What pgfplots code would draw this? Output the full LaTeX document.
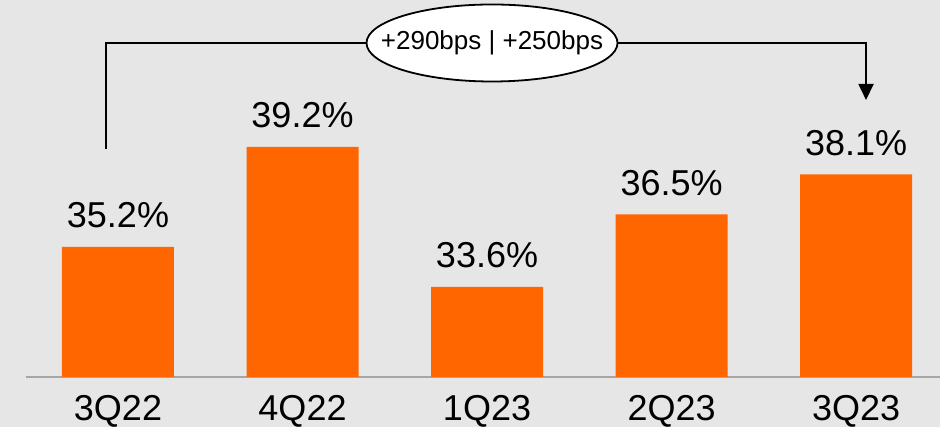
\documentclass[border=0pt]{standalone}
\usepackage{pgfplots}
\pgfplotsset{compat=1.18}
\usepackage{fontspec}
\setmainfont{Liberation Sans}
\usetikzlibrary{arrows.meta}

\definecolor{bgray}{RGB}{230,230,230}
\definecolor{barorange}{RGB}{255,102,0}
\definecolor{basegray}{RGB}{166,166,166}

\begin{document}
\begin{tikzpicture}
\fill[bgray] (0,0) rectangle (940pt,427pt);
\begin{axis}[
  at={(26pt,50pt)}, anchor=south west,
  scale only axis,
  width=914pt, height=377pt,
  xmin=-0.4986, xmax=4.455,
  ymin=30, ymax=45.08,
  clip=false,
  axis y line=none,
  axis x line=bottom,
  x axis line style={draw=basegray, line width=1.6pt, -},
  xtick=data,
  xticklabels={3Q22,4Q22,1Q23,2Q23,3Q23},
  major tick length=0pt,
  xticklabel style={font=\fontsize{36}{40}\selectfont, anchor=base, yshift=-44pt},
  ytick=\empty,
  /pgf/number format/assume math mode=true,
  ybar, bar width=112pt,
  nodes near coords={\pgfmathprintnumber[fixed,precision=1,fixed zerofill]{\pgfplotspointmeta}\%},
  nodes near coords style={font=\fontsize{36}{40}\selectfont, anchor=base, yshift=19pt, text=black},
]
\addplot[fill=barorange, draw=none] coordinates {
  (0,35.2) (1,39.2) (2,33.6) (3,36.5) (4,38.1)
};
% bracket with change annotation
\draw[line width=1.8pt, -{Triangle[width=15pt,length=16pt]}]
  (axis cs:-0.065,39.12) -- (axis cs:-0.065,43.36) -- (axis cs:4.054,43.36) -- (axis cs:4.054,41.08);
\draw[line width=1.8pt, fill=white] (axis cs:2.027,43.36) ellipse [x radius=125.5pt, y radius=38.5pt];
\node[inner sep=0pt, font=\fontsize{26}{30}\selectfont]
  at (axis cs:2.027,43.36) {+290bps | +250bps};
\end{axis}
\pgfresetboundingbox
\path (0,0) rectangle (940pt,427pt);
\end{tikzpicture}
\end{document}
